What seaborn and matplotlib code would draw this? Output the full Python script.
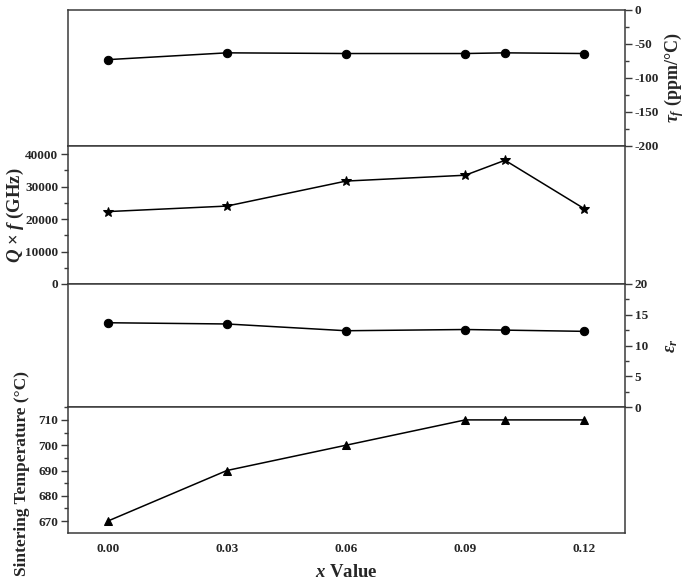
import numpy as np
import pandas as pd
import matplotlib.pyplot as plt
from matplotlib.ticker import MultipleLocator, AutoMinorLocator
import seaborn as sns

# data
x_val = [0.00, 0.03, 0.06, 0.09, 0.10, 0.12]
tau_f = [-73, -63, -64, -64, -63, -64]
qf = [22300, 24000, 31700, 33500, 38100, 23150]
eps_r = [13.7, 13.5, 12.4, 12.6, 12.5, 12.3]
sint_temp = [670, 690, 700, 710, 710, 710]
x_ticks = [0.00, 0.03, 0.06, 0.09, 0.12]

sns.set_style("white")
plt.rcParams['font.family'] = ['Liberation Serif', 'DejaVu Serif']
plt.rcParams['font.weight'] = 'bold'
plt.rcParams['axes.unicode_minus'] = False
plt.rcParams['mathtext.fontset'] = 'custom'
plt.rcParams['mathtext.rm'] = 'Liberation Serif:bold'
plt.rcParams['mathtext.it'] = 'Liberation Serif:italic:bold'
plt.rcParams['mathtext.bf'] = 'Liberation Serif:bold'

W, H = 685, 582
fig = plt.figure(figsize=(W / 100, H / 100), dpi=100)

left, right = 68, 625
rows = [(10, 146), (146, 284), (284, 407), (407, 533)]
axes = []
for top, bot in rows:
    axes.append(fig.add_axes([left / W, (H - bot) / H, (right - left) / W, (bot - top) / H]))
ax1, ax2, ax3, ax4 = axes

df = pd.DataFrame({'x': x_val, 'tau': tau_f, 'qf': qf, 'eps': eps_r, 'T': sint_temp})

kw = dict(x='x', data=df, color='black', linewidth=1.1, markeredgecolor='black')
sns.lineplot(y='tau', marker='o', markersize=6, ax=ax1, **kw)
sns.lineplot(y='qf', marker='*', markersize=7.5, ax=ax2, **kw)
sns.lineplot(y='eps', marker='o', markersize=6, ax=ax3, **kw)
sns.lineplot(y='T', marker='^', markersize=6, ax=ax4, **kw)

ax1.set_ylim(-200, 0)
ax1.yaxis.set_major_locator(MultipleLocator(50))
ax2.set_ylim(0, 42500)
ax2.yaxis.set_major_locator(MultipleLocator(10000))
ax3.set_ylim(0, 20)
ax3.yaxis.set_major_locator(MultipleLocator(5))
ax4.set_ylim(665.3, 715.1)
ax4.yaxis.set_major_locator(MultipleLocator(10))

for ax in axes:
    ax.set_xlim(-0.01, 0.1302)
    ax.set_xticks(x_ticks)
    ax.xaxis.set_minor_locator(MultipleLocator(0.015))
    ax.yaxis.set_minor_locator(AutoMinorLocator(2))
    for s in ax.spines.values():
        s.set_color('#3a3a3a')
        s.set_linewidth(1.1)
    ax.set_xlabel('')
    ax.set_ylabel('')
    ax.tick_params(axis='y', which='major', direction='out', length=5, width=1,
                   color='#3a3a3a', labelsize=9.5, pad=2)
    ax.tick_params(axis='y', which='minor', direction='out', length=3, width=1,
                   color='#3a3a3a')
    if ax is not ax4:
        ax.tick_params(axis='x', which='both', bottom=False, labelbottom=False)

for ax in (ax1, ax3):
    ax.yaxis.tick_right()
    ax.yaxis.set_label_position('right')
for ax in (ax2, ax4):
    ax.yaxis.tick_left()

ax4.tick_params(axis='x', which='major', direction='in', length=4, width=1,
                color='#3a3a3a', labelsize=9.5, pad=7)
ax4.tick_params(axis='x', which='minor', direction='in', length=2.5, width=1,
                color='#3a3a3a')

ax1.set_ylabel(r'$\tau_f$ (ppm/°C)', fontsize=13, fontweight='bold')
ax1.yaxis.set_label_coords(1.066, 0.5)
ax2.set_ylabel(r'$Q$ × $f$ (GHz)', fontsize=13.5, fontweight='bold')
ax2.yaxis.set_label_coords(-0.075, 0.5)
ax3.set_ylabel(r'$\varepsilon_r$', fontsize=13, fontweight='bold')
ax3.yaxis.set_label_coords(1.068, 0.5)
ax4.set_ylabel('Sintering Temperature (°C)', fontsize=12.5, fontweight='bold')
ax4.yaxis.set_label_coords(-0.068, 0.47)
ax4.set_xlabel(r'$x$ Value', fontsize=13.5, fontweight='bold', labelpad=7)

fig.savefig('out.png', dpi=100)
